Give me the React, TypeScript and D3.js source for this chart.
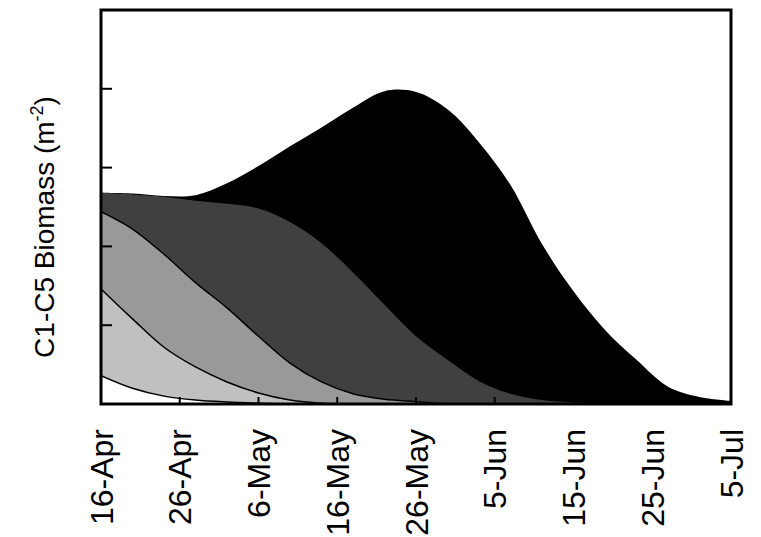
import React from "react";
import * as d3 from "d3";

// days since 16-Apr
const days = [0, 4, 8, 12, 16, 20, 24, 28, 32, 36, 40, 44, 48, 52, 56, 60, 64, 68, 72, 76, 80];

// per-stage biomass (stacked bottom to top)
const stage1 = [0.36, 0.2, 0.1, 0.05, 0.025, 0.01, 0, 0, 0, 0, 0, 0, 0, 0, 0, 0, 0, 0, 0, 0, 0];
const stage2 = [1.1, 0.88, 0.62, 0.42, 0.255, 0.13, 0.05, 0.01, 0, 0, 0, 0, 0, 0, 0, 0, 0, 0, 0, 0, 0];
const stage3 = [0.98, 1.14, 1.18, 1.07, 0.94, 0.72, 0.47, 0.27, 0.13, 0.06, 0.03, 0, 0, 0, 0, 0, 0, 0, 0, 0, 0];
const stage4 = [0.24, 0.44, 0.73, 1.04, 1.32, 1.62, 1.79, 1.76, 1.54, 1.2, 0.83, 0.56, 0.29, 0.13, 0.05, 0.02, 0, 0, 0, 0, 0];
const stage5 = [0, 0.01, 0.01, 0.07, 0.26, 0.54, 0.96, 1.47, 2.09, 2.71, 3.1, 3.18, 3.03, 2.65, 1.98, 1.41, 0.94, 0.56, 0.22, 0.09, 0.04];

const stageKeys = ["s1", "s2", "s3", "s4", "s5"];
const stageFills = ["#ffffff", "#c0c0c0", "#999999", "#404040", "#000000"];
const stageOutlined = [true, true, true, false, false];

const tickDays = [0, 10, 20, 30, 40, 50, 60, 70, 80];
const tickLabels = ["16-Apr", "26-Apr", "6-May", "16-May", "26-May", "5-Jun", "15-Jun", "25-Jun", "5-Jul"];
const yTicks = [1, 2, 3, 4];

const W = 761;
const H = 537;
const M = { left: 101, right: 731, top: 10, bottom: 404 };

export default function App() {
  const x = d3.scaleLinear().domain([0, 80]).range([M.left, M.right]);
  const y = d3.scaleLinear().domain([0, 5]).range([M.bottom, M.top]);

  const rows = days.map((d, i) => ({
    day: d,
    s1: stage1[i],
    s2: stage2[i],
    s3: stage3[i],
    s4: stage4[i],
    s5: stage5[i],
  }));
  const series = d3.stack<any>().keys(stageKeys)(rows);

  const curve = d3.curveCatmullRom.alpha(0.5);
  const area = d3
    .area<any>()
    .x((d) => x(d.data.day))
    .y0(() => y(0))
    .y1((d) => y(d[1]))
    .curve(curve);
  const topLine = d3
    .line<any>()
    .x((d) => x(d.data.day))
    .y((d) => y(d[1]))
    .curve(curve);

  const font = "'Liberation Sans', Arial, sans-serif";
  const order = series.map((_, i) => i).reverse();

  return (
    <svg width={W} height={H} style={{ position: "absolute", left: 0, top: 0 }}>
      <defs>
        <clipPath id="plot">
          <rect x={M.left} y={M.top} width={M.right - M.left} height={M.bottom - M.top} />
        </clipPath>
      </defs>
      <rect x={0} y={0} width={W} height={H} fill="#fff" />
      <g clipPath="url(#plot)">
        {order.map((i) => (
          <path key={"a" + i} d={area(series[i]) || ""} fill={stageFills[i]} stroke="none" />
        ))}
        {series.map((s, i) =>
          stageOutlined[i] ? (
            <path key={"l" + i} d={topLine(s) || ""} fill="none" stroke="#000" strokeWidth={1.5} />
          ) : null
        )}
      </g>
      {yTicks.map((t) => (
        <line key={"yt" + t} x1={M.left} x2={M.left + 11} y1={y(t)} y2={y(t)} stroke="#000" strokeWidth={2} />
      ))}
      {tickDays.map((t) => (
        <line key={"xt" + t} x1={x(t)} x2={x(t)} y1={M.bottom} y2={M.bottom - 7} stroke="#000" strokeWidth={2} />
      ))}
      <rect
        x={M.left}
        y={M.top}
        width={M.right - M.left}
        height={M.bottom - M.top}
        fill="none"
        stroke="#000"
        strokeWidth={3}
      />
      {tickDays.map((t, i) => (
        <text
          key={"xl" + t}
          transform={`translate(${x(t)},429) rotate(-90)`}
          textAnchor="end"
          dy="0.36em"
          fontFamily={font}
          fontSize={32}
          fill="#000"
        >
          {tickLabels[i]}
        </text>
      ))}
      <text
        transform="translate(44,227) rotate(-90)"
        textAnchor="middle"
        dy="0.36em"
        fontFamily={font}
        fontSize={28}
        fill="#000"
      >
        C1-C5 Biomass (m
        <tspan fontSize={18} dy="-0.6em">
          -2
        </tspan>
        <tspan dy="0.4em">)</tspan>
      </text>
    </svg>
  );
}
